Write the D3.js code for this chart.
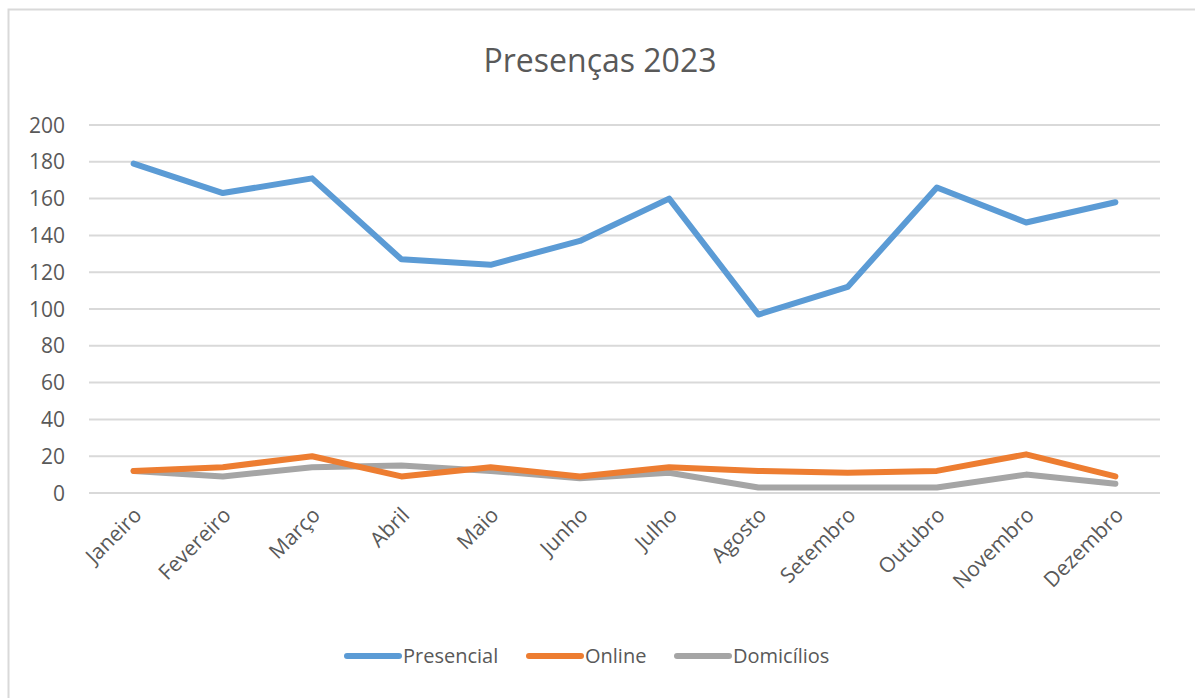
<!DOCTYPE html>
<html>
<head>
<meta charset="utf-8">
<script src="https://cdn.jsdelivr.net/npm/d3@7"></script>
<style>
  body { margin: 0; background: #fff; }
  text { font-family: "Open Sans", sans-serif; fill: #595959; }
</style>
</head>
<body>
<div id="chart"></div>
<script>
var width = 1195, height = 698;

var months = ["Janeiro","Fevereiro","Março","Abril","Maio","Junho","Julho","Agosto","Setembro","Outubro","Novembro","Dezembro"];
var presencial = [179,163,171,127,124,137,160,97,112,166,147,158];
var online = [12,14,20,9,14,9,14,12,11,12,21,9];
var domicilios = [12,9,14,15,12,8,11,3,3,3,10,5];
var yTicks = [0,20,40,60,80,100,120,140,160,180,200];

var series = [
  {name:"Presencial", values:presencial, color:"#5B9BD5"},
  {name:"Online", values:online, color:"#ED7D31"},
  {name:"Domicílios", values:domicilios, color:"#A5A5A5"}
];

var svg = d3.select("#chart").append("svg")
  .attr("width", width)
  .attr("height", height);

// chart frame
svg.append("rect")
  .attr("x", 8.5).attr("y", 9.5)
  .attr("width", width + 20).attr("height", height + 20)
  .attr("fill", "none")
  .attr("stroke", "#D9D9D9")
  .attr("stroke-width", 2);

var x = d3.scaleBand().domain(months).range([89, 1160]);
var y = d3.scaleLinear().domain([0, 200]).range([493, 125]);

svg.append("text")
  .attr("x", 600).attr("y", 72)
  .attr("text-anchor", "middle")
  .attr("font-size", "32px")
  .text("Presenças 2023");

// gridlines
svg.append("g")
  .selectAll("line")
  .data(yTicks)
  .enter()
  .append("line")
  .attr("x1", 89).attr("x2", 1160)
  .attr("y1", function(d){ return y(d); })
  .attr("y2", function(d){ return y(d); })
  .attr("stroke", "#D9D9D9")
  .attr("stroke-width", 2);

// y labels
svg.append("g")
  .selectAll("text")
  .data(yTicks)
  .enter()
  .append("text")
  .attr("x", 65)
  .attr("y", function(d){ return y(d); })
  .attr("dy", "0.36em")
  .attr("text-anchor", "end")
  .attr("font-size", "21px")
  .text(function(d){ return d; });

// x labels
svg.append("g")
  .selectAll("text")
  .data(months)
  .enter()
  .append("text")
  .attr("transform", function(d){
    return "translate(" + (x(d) + x.bandwidth()/2 - 1) + ",506) rotate(-45)";
  })
  .attr("text-anchor", "end")
  .attr("dy", "0.7em")
  .attr("font-size", "21px")
  .text(function(d){ return d; });

var line = d3.line()
  .x(function(d, i){ return x(months[i]) + x.bandwidth()/2; })
  .y(function(d){ return y(d); });

svg.append("g")
  .selectAll("path")
  .data(series.slice().reverse())
  .enter()
  .append("path")
  .attr("d", function(d){ return line(d.values); })
  .attr("fill", "none")
  .attr("stroke", function(d){ return d.color; })
  .attr("stroke-width", 6)
  .attr("stroke-linejoin", "round")
  .attr("stroke-linecap", "round");

// legend
var legX = [345, 527, 675];
var legend = svg.append("g")
  .selectAll("g")
  .data(series)
  .enter()
  .append("g")
  .attr("transform", function(d, i){ return "translate(" + legX[i] + ",656)"; });

legend.append("line")
  .attr("x1", 2).attr("x2", 54)
  .attr("stroke", function(d){ return d.color; })
  .attr("stroke-width", 6)
  .attr("stroke-linecap", "round");

legend.append("text")
  .attr("x", 58)
  .attr("dy", "0.36em")
  .attr("font-size", "20px")
  .text(function(d){ return d.name; });
</script>
</body>
</html>
